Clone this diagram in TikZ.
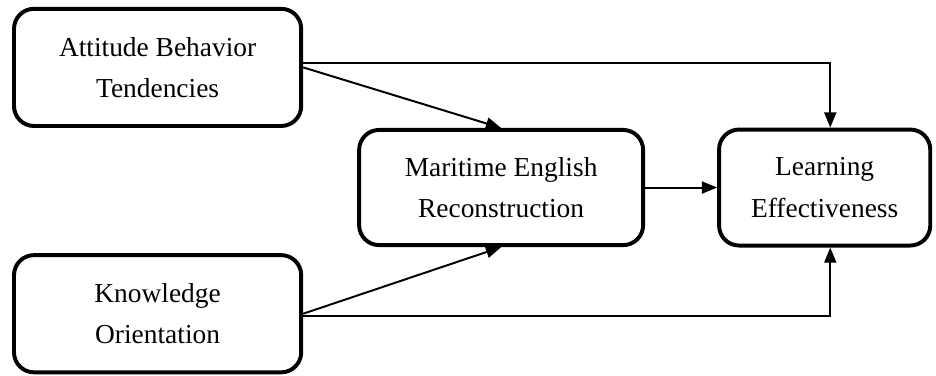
\documentclass[tikz,border=0pt]{standalone}
\usepackage{fontspec}
\setmainfont{Liberation Serif}
\usetikzlibrary{positioning,arrows.meta,calc}
\tikzset{var box/.style={rectangle, draw, rounded corners=0.5cm, line width=2.8pt, minimum width=7.18cm, minimum height=2.93cm, align=center, font=\fontsize{19.5}{29.5}\selectfont},
  link/.style={-{Triangle[length=0.38cm,width=0.3cm]}, line width=1.4pt},}

\begin{document}
\begin{tikzpicture}
        \useasboundingbox (0,0) rectangle (23.4,9.375);
        % Nodes
        \node[var box] (1) at (3.94,7.69) {Attitude Behavior\\Tendencies};
        \node[var box] [below = 3.13cm of 1] (2) {Knowledge\\Orientation};
        \node[var box, minimum width=7.1cm, minimum height=2.88cm] [below right = 0cm and 1.35cm of 1] (3) {Maritime English\\Reconstruction};
        \node[var box, minimum width=5.28cm, minimum height=2.9cm] [right = 1.8cm of 3] (4) {Learning\\Effectiveness};
        % Paths
        \draw[link] ([yshift=1mm]1.east) -| ([xshift=1.4mm]4.north);
        \draw[link] (1.east) -- (3.north);
        \draw[link] (2.east) -- (3.south);
        \draw[link] ([yshift=-0.6mm]2.east) -| ([xshift=1.4mm]4.south);
        \draw[link] (3.east) -- (4.west);
    \end{tikzpicture}
\end{document}
